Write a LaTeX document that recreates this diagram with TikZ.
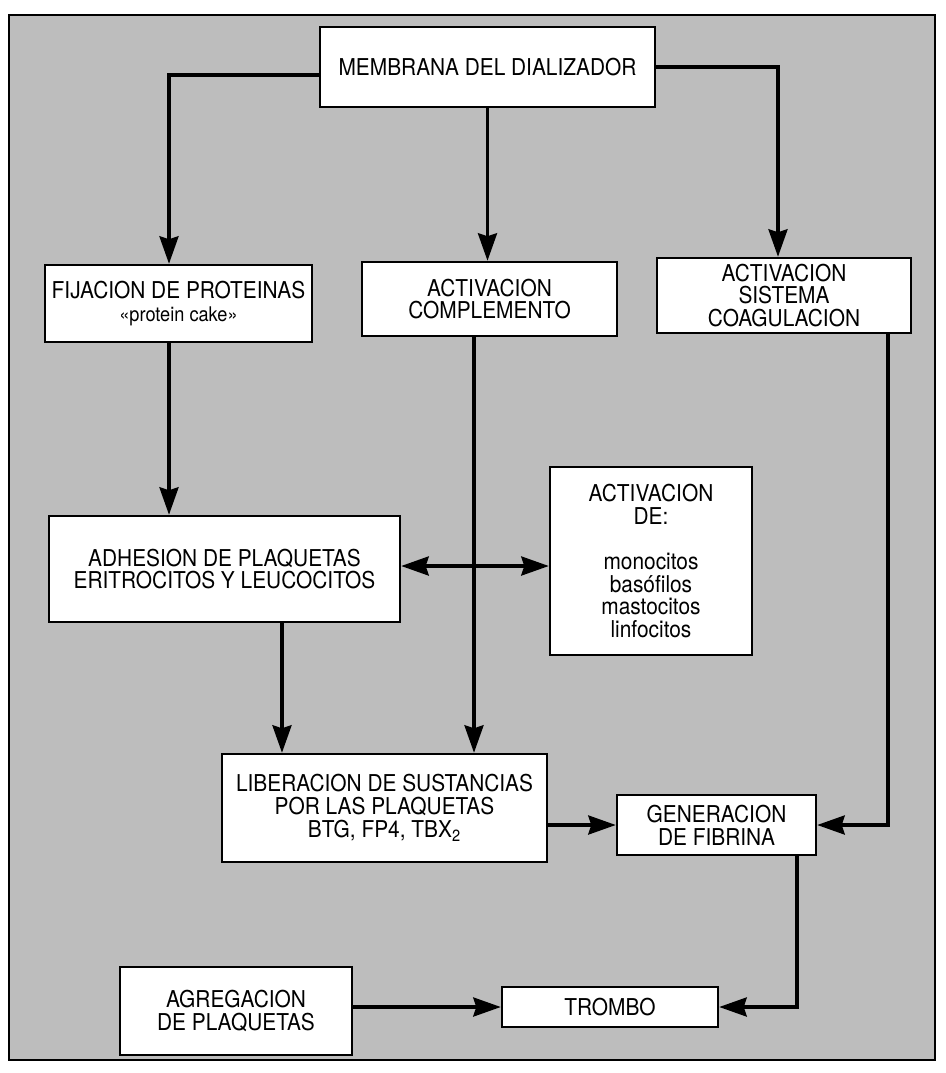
\documentclass[tikz,border=0pt]{standalone}
\usepackage{fontspec}
\setmainfont{TeX Gyre Heros}[FakeStretch=0.9]
\usepackage{tikz}
\usetikzlibrary{arrows.meta,calc}
\definecolor{fondo}{gray}{0.74}

\begin{document}
\begin{tikzpicture}[x=0.02cm,y=-0.02cm,
  box/.style={draw,line width=1.4pt,fill=white,inner sep=0pt,align=center,
    font=\fontsize{13.2}{12.9}\selectfont},
  arr/.style={line width=2pt,-{Stealth[length=5.5mm,width=3.8mm,inset=0.6mm]}},
  dbl/.style={line width=2pt,{Stealth[length=5.5mm,width=3.8mm,inset=0.6mm]}-{Stealth[length=5.5mm,width=3.8mm,inset=0.6mm]}}]
\useasboundingbox (0,0) rectangle (946,1073);
\draw[line width=1.2pt,fill=fondo] (9,15) rectangle (935,1060);

\node[box,minimum width=6.7cm,minimum height=1.6cm] (memb) at (487.5,67) {MEMBRANA DEL DIALIZADOR};
\node[box,minimum width=5.34cm,minimum height=1.54cm] (fij) at (178.5,303.5) {FIJACION DE PROTEINAS\\{\fontsize{11.5}{12.9}\selectfont «protein cake»}};
\node[box,minimum width=5.1cm,minimum height=1.48cm] (comp) at (489.5,299) {ACTIVACION\\COMPLEMENTO};
\node[box,minimum width=5.08cm,minimum height=1.5cm] (coag) at (784,295.5) {ACTIVACION\\SISTEMA\\COAGULACION};
\node[box,minimum width=7.02cm,minimum height=2.12cm] (adh) at (224.5,569) {ADHESION DE PLAQUETAS\\ERITROCITOS Y LEUCOCITOS};
\node[box,minimum width=4.04cm,minimum height=3.76cm] (actde) at (651,561) {ACTIVACION\\DE:\\[12.9pt]monocitos\\basófilos\\mastocitos\\linfocitos};
\node[box,minimum width=6.5cm,minimum height=2.16cm] (lib) at (384.5,808) {LIBERACION DE SUSTANCIAS\\POR LAS PLAQUETAS\\BTG, FP4, TBX\textsubscript{2}};
\node[box,minimum width=3.98cm,minimum height=1.2cm] (gen) at (716.5,825) {GENERACION\\DE FIBRINA};
\node[box,minimum width=4.64cm,minimum height=1.76cm] (agr) at (236,1011) {AGREGACION\\DE PLAQUETAS};
\node[box,minimum width=4.32cm,minimum height=0.8cm] (trom) at (610,1007) {TROMBO};

\draw[arr] ([yshift=-0.16cm]memb.west) -| ([xshift=-0.19cm]fij.north);
\draw[arr] (memb.south) -- (memb.south |- comp.north);
\draw[arr] (memb.east) -| ([xshift=-0.12cm]coag.north);
\draw[arr] ([xshift=-0.19cm]fij.south) -- ([xshift=-0.19cm]fij.south |- adh.north);
\draw[arr] ([xshift=-0.31cm]comp.south) -- ([xshift=-0.31cm]comp.south |- lib.north);
\draw[arr] ([xshift=1.15cm]adh.south) -- ([xshift=1.15cm]adh.south |- lib.north);
\draw[dbl] ([yshift=0.06cm]adh.east) -- ([yshift=0.06cm]adh.east -| actde.west);
\draw[arr] (lib.east |- gen.west) -- (gen.west);
\draw[arr] ([xshift=2.08cm]coag.south) |- (gen.east);
\draw[arr] ([xshift=1.61cm]gen.south) |- (trom.east);
\draw[arr] (agr.east |- trom.west) -- (trom.west);
\end{tikzpicture}
\end{document}
